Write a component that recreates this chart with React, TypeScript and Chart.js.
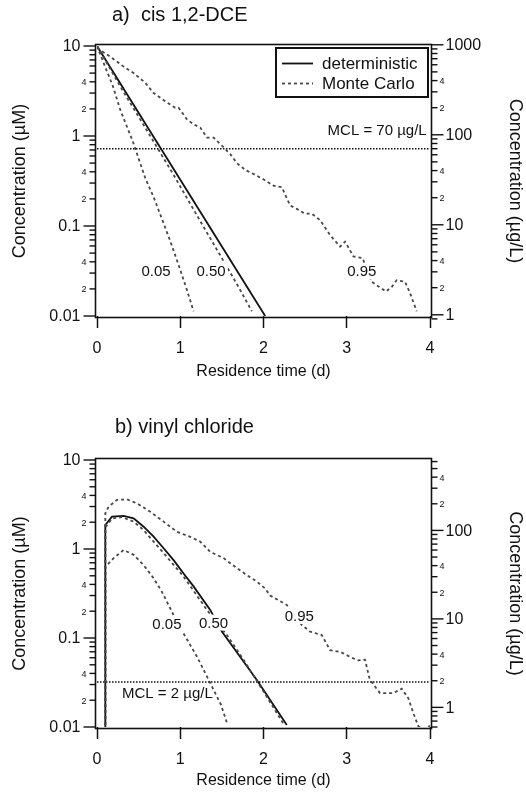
import React, { useEffect, useRef } from "react";
import { Chart, registerables } from "chart.js";

Chart.register(...registerables);

const FONT = "'Liberation Sans', Arial, Helvetica, sans-serif";
const INK = "#111111";
const MC_INK = "#484848";

// ---------- shared axis values ----------
const X_TICKS = [0, 1, 2, 3, 4];
const X_MIN = 0;
const X_MAX = 4;
const Y_MIN = 0.01;
const Y_MAX = 10;
const DECADES = [0.1, 1, 10, 100, 1000];
const MANTISSAS = [1, 2, 3, 4, 5, 6, 7, 8, 9];
const LABELLED_MINOR = [2, 4];
const LEFT_DECADES = [0.01, 0.1, 1, 10];

// ---------- (a) cis 1,2-DCE ----------
const DCE_TITLE = "a)  cis 1,2-DCE";
const DCE_MW = 96.94; // g/mol -> µM to µg/L
const DCE_MCL_UGL = 70;
const DCE_MCL_TEXT = "MCL = 70 µg/L";

const DCE_DET_T = [0, 2.02];
const DCE_DET_C = [10, 0.01];

const DCE_P05_T = [0, 0.1, 0.19, 0.28, 0.43, 0.58, 0.68, 0.78, 0.88, 0.98, 1.08, 1.16];
const DCE_P05_C = [10, 5.8, 3.6, 1.95, 0.87, 0.34, 0.21, 0.12, 0.068, 0.037, 0.0195, 0.0113];

const DCE_P50_T = [0, 0.3, 0.6, 0.92, 1.1, 1.3, 1.5, 1.7, 1.86];
const DCE_P50_C = [10, 3.3, 1.15, 0.37, 0.19, 0.091, 0.044, 0.021, 0.0113];

const DCE_P95_T = [0, 0.16, 0.32, 0.44, 0.58, 0.68, 0.82, 0.94, 0.98, 1.08, 1.16, 1.24, 1.32, 1.4, 1.5, 1.6, 1.68, 1.78, 1.9, 2.0, 2.12, 2.22, 2.32, 2.4, 2.5, 2.58, 2.68, 2.8, 2.92, 2.98, 3.08, 3.19, 3.3, 3.47, 3.54, 3.6, 3.7, 3.76, 3.84];
const DCE_P95_C = [9.5, 7.6, 5.9, 5.0, 3.9, 3.0, 2.43, 2.06, 2.06, 1.53, 1.35, 1.24, 0.96, 0.96, 0.78, 0.63, 0.5, 0.42, 0.37, 0.33, 0.28, 0.27, 0.169, 0.155, 0.137, 0.137, 0.116, 0.079, 0.059, 0.067, 0.046, 0.044, 0.024, 0.0187, 0.021, 0.025, 0.024, 0.018, 0.0113];

const DCE_LABEL_TEXT = ["0.05", "0.50", "0.95"];
const DCE_LABEL_T = [0.71, 1.37, 3.18];
const DCE_LABEL_C = [0.0316, 0.0316, 0.0316];
const DCE_MCL_LABEL_T = 3.96;
const DCE_MCL_LABEL_C = 1.14;

// ---------- (b) vinyl chloride ----------
const VC_TITLE = "b) vinyl chloride";
const VC_MW = 62.5;
const VC_MCL_UGL = 2;
const VC_MCL_TEXT = "MCL = 2 µg/L";

const VC_DET_T = [0.1, 0.1, 0.18, 0.32, 0.44, 0.56, 0.68, 0.8, 0.92, 1.04, 1.16, 1.36, 1.5, 1.92, 2.28];
const VC_DET_C = [0.009, 1.86, 2.31, 2.36, 2.21, 1.78, 1.38, 1.02, 0.75, 0.53, 0.38, 0.207, 0.118, 0.0337, 0.0105];

const VC_P05_T = [0.1, 0.1, 0.2, 0.32, 0.44, 0.56, 0.68, 0.78, 0.92, 1.05, 1.2, 1.34, 1.49, 1.57];
const VC_P05_C = [0.009, 0.63, 0.79, 0.975, 0.86, 0.66, 0.47, 0.33, 0.181, 0.108, 0.062, 0.034, 0.0177, 0.0105];

const VC_P50_T = [0.1, 0.1, 0.18, 0.3, 0.44, 0.56, 0.8, 1.04, 1.2, 1.32, 1.56, 1.76, 2.0, 2.25];
const VC_P50_C = [0.009, 1.75, 2.2, 2.28, 2.03, 1.63, 0.9, 0.49, 0.3, 0.207, 0.108, 0.057, 0.025, 0.0105];

const VC_P95_T = [0.1, 0.1, 0.14, 0.24, 0.36, 0.48, 0.64, 0.8, 0.96, 1.12, 1.24, 1.36, 1.52, 1.68, 1.8, 1.92, 2.02, 2.08, 2.28, 2.46, 2.56, 2.7, 2.8, 2.92, 3.06, 3.14, 3.22, 3.27, 3.32, 3.4, 3.56, 3.66, 3.74, 3.8, 3.86, 3.92, 3.98, 4.0];
const VC_P95_C = [0.009, 2.52, 2.99, 3.56, 3.61, 3.26, 2.62, 2.03, 1.56, 1.37, 1.21, 0.93, 0.79, 0.61, 0.51, 0.43, 0.36, 0.3, 0.235, 0.14, 0.118, 0.108, 0.073, 0.07, 0.06, 0.056, 0.057, 0.036, 0.03, 0.024, 0.024, 0.027, 0.021, 0.0143, 0.0102, 0.0094, 0.0098, 0.0106];

const VC_LABEL_TEXT = ["0.05", "0.50", "0.95"];
const VC_LABEL_T = [0.84, 1.4, 2.43];
const VC_LABEL_C = [0.144, 0.149, 0.177];
const VC_MCL_LABEL_T = 0.3;
const VC_MCL_LABEL_C = 0.0235;

const LEGEND_TEXT = ["deterministic", "Monte Carlo"];

// ---------- helpers ----------
const pts = (t: number[], c: number[]) => t.map((x, i) => ({ x, y: c[i] }));

type Panel = {
  title: string;
  titleX: number;
  titleY: number;
  mw: number;
  mcl: number;
  mclText: string;
  mclLabelT: number;
  mclLabelC: number;
  mclAlign: CanvasTextAlign;
  series: { t: number[]; c: number[]; mc: boolean }[];
  labelText: string[];
  labelT: number[];
  labelC: number[];
  legend: boolean;
  height: number;
  padTop: number;
  xHeight: number;
  xTickPad: number;
  xTitlePad: number;
};

const PANEL_A: Panel = {
  title: DCE_TITLE,
  titleX: 112,
  titleY: 15,
  mw: DCE_MW,
  mcl: DCE_MCL_UGL / DCE_MW,
  mclText: DCE_MCL_TEXT,
  mclLabelT: DCE_MCL_LABEL_T,
  mclLabelC: DCE_MCL_LABEL_C,
  mclAlign: "right",
  series: [
    { t: DCE_P05_T, c: DCE_P05_C, mc: true },
    { t: DCE_P50_T, c: DCE_P50_C, mc: true },
    { t: DCE_P95_T, c: DCE_P95_C, mc: true },
    { t: DCE_DET_T, c: DCE_DET_C, mc: false },
  ],
  labelText: DCE_LABEL_TEXT,
  labelT: DCE_LABEL_T,
  labelC: DCE_LABEL_C,
  legend: true,
  height: 396,
  padTop: 46,
  xHeight: 80,
  xTickPad: 10.5,
  xTitlePad: 14.4,
};

const PANEL_B: Panel = {
  title: VC_TITLE,
  titleX: 115,
  titleY: 31,
  mw: VC_MW,
  mcl: VC_MCL_UGL / VC_MW,
  mclText: VC_MCL_TEXT,
  mclLabelT: VC_MCL_LABEL_T,
  mclLabelC: VC_MCL_LABEL_C,
  mclAlign: "left",
  series: [
    { t: VC_P05_T, c: VC_P05_C, mc: true },
    { t: VC_P50_T, c: VC_P50_C, mc: true },
    { t: VC_P95_T, c: VC_P95_C, mc: true },
    { t: VC_DET_T, c: VC_DET_C, mc: false },
  ],
  labelText: VC_LABEL_TEXT,
  labelT: VC_LABEL_T,
  labelC: VC_LABEL_C,
  legend: false,
  height: 397,
  padTop: 64,
  xHeight: 66,
  xTickPad: 11,
  xTitlePad: 2.4,
};

function tickValues(decades: number[]) {
  const out: { v: number; m: number }[] = [];
  decades.forEach((d) => MANTISSAS.forEach((m) => out.push({ v: +(d * m).toPrecision(6), m })));
  return out;
}

function makeDecor(p: Panel) {
  return {
    id: "decor",
    afterDatasetsDraw(chart: any) {
      const ctx: CanvasRenderingContext2D = chart.ctx;
      const xs = chart.scales.x;
      const yl = chart.scales.y;
      const yr = chart.scales.y2;
      const { left, right, top, bottom } = chart.chartArea;
      const fl = left - 1.5;
      const fr = right + 1.5;
      const ft = top - 1.5;
      const fb = bottom + 1.5;
      ctx.save();

      // curve quantile labels (white box interrupts the curve like the original)
      ctx.font = `15px ${FONT}`;
      ctx.textAlign = "center";
      ctx.textBaseline = "middle";
      p.labelText.forEach((txt, i) => {
        const x = xs.getPixelForValue(p.labelT[i]);
        const y = yl.getPixelForValue(p.labelC[i]);
        const w = ctx.measureText(txt).width;
        ctx.fillStyle = "#fff";
        ctx.fillRect(x - w / 2 - 2, y - 8, w + 4, 16);
        ctx.fillStyle = INK;
        ctx.fillText(txt, x, y + 1);
      });

      // MCL label
      ctx.font = `15px ${FONT}`;
      ctx.textAlign = p.mclAlign;
      ctx.fillStyle = INK;
      ctx.fillText(p.mclText, xs.getPixelForValue(p.mclLabelT), yl.getPixelForValue(p.mclLabelC));

      // frame
      ctx.strokeStyle = INK;
      ctx.lineWidth = 1.6;
      ctx.strokeRect(fl, ft, fr - fl, fb - ft);

      // left axis ticks
      ctx.lineWidth = 1.4;
      tickValues(LEFT_DECADES).forEach(({ v, m }) => {
        if (v < Y_MIN * 0.999 || v > Y_MAX * 1.001) return;
        const y = yl.getPixelForValue(v);
        const major = m === 1;
        const len = major ? 12 : 6;
        ctx.beginPath();
        ctx.moveTo(fl - len, y);
        ctx.lineTo(fl, y);
        ctx.stroke();
        if (major || LABELLED_MINOR.includes(m)) {
          ctx.textAlign = "right";
          ctx.textBaseline = "middle";
          ctx.font = major ? `16px ${FONT}` : `9px ${FONT}`;
          ctx.fillText(major ? String(v) : String(m), fl - len - 3, y + 1);
        }
      });

      // right axis ticks (µg/L)
      tickValues(DECADES).forEach(({ v, m }) => {
        const y = yr.getPixelForValue(v);
        if (y < ft - 2 || y > fb + 2) return;
        const major = m === 1;
        const len = major ? 12 : 6;
        ctx.beginPath();
        ctx.moveTo(fr, y);
        ctx.lineTo(fr + len, y);
        ctx.stroke();
        if (major || LABELLED_MINOR.includes(m)) {
          ctx.textAlign = "left";
          ctx.textBaseline = "middle";
          ctx.font = major ? `16px ${FONT}` : `9px ${FONT}`;
          ctx.fillText(major ? String(v) : String(m), fr + len + 2, y + 1);
        }
      });

      // legend
      if (p.legend) {
        const bw = 152;
        const bh = 49;
        const bx = right - 2 - bw;
        const by = top + 2;
        ctx.fillStyle = "#fff";
        ctx.fillRect(bx, by, bw, bh);
        ctx.lineWidth = 2;
        ctx.strokeStyle = INK;
        ctx.strokeRect(bx, by, bw, bh);
        const rows = [by + 15.5, by + 35.5];
        ctx.lineWidth = 1.8;
        ctx.beginPath();
        ctx.moveTo(bx + 6, rows[0]);
        ctx.lineTo(bx + 37, rows[0]);
        ctx.stroke();
        ctx.strokeStyle = MC_INK;
        ctx.setLineDash([3, 3]);
        ctx.beginPath();
        ctx.moveTo(bx + 6, rows[1]);
        ctx.lineTo(bx + 37, rows[1]);
        ctx.stroke();
        ctx.setLineDash([]);
        ctx.fillStyle = INK;
        ctx.font = `17px ${FONT}`;
        ctx.textAlign = "left";
        ctx.textBaseline = "middle";
        LEGEND_TEXT.forEach((t, i) => ctx.fillText(t, bx + 46, rows[i] + 1));
      }

      // panel title
      ctx.fillStyle = INK;
      ctx.font = `20px ${FONT}`;
      ctx.textAlign = "left";
      ctx.textBaseline = "middle";
      ctx.fillText(p.title, p.titleX, p.titleY);

      ctx.restore();
    },
  };
}

function buildConfig(p: Panel): any {
  const datasets: any[] = p.series.map((s) => ({
    data: pts(s.t, s.c),
    borderColor: s.mc ? MC_INK : INK,
    borderWidth: 1.8,
    borderDash: s.mc ? [3, 3] : [],
    pointRadius: 0,
    tension: 0,
    fill: false,
  }));
  datasets.push({
    data: [
      { x: X_MIN, y: p.mcl },
      { x: X_MAX, y: p.mcl },
    ],
    borderColor: INK,
    borderWidth: 1.5,
    borderDash: [1.5, 1.5],
    pointRadius: 0,
    fill: false,
  });
  const titleFont = { family: FONT, size: 18 };
  return {
    type: "line",
    data: { datasets },
    options: {
      responsive: false,
      maintainAspectRatio: false,
      animation: false,
      events: [],
      layout: { padding: { top: p.padTop, left: 0, right: 0, bottom: 0 } },
      plugins: { legend: { display: false }, title: { display: false }, tooltip: { enabled: false } },
      scales: {
        x: {
          type: "linear",
          min: X_MIN,
          max: X_MAX,
          afterBuildTicks: (s: any) => {
            s.ticks = X_TICKS.map((v) => ({ value: v }));
          },
          afterFit: (s: any) => {
            s.height = p.xHeight;
          },
          ticks: { font: { family: FONT, size: 16 }, color: INK, padding: p.xTickPad, maxRotation: 0 },
          grid: { display: true, drawOnChartArea: false, drawTicks: true, tickLength: 12, tickWidth: 1.5, tickColor: INK, color: INK },
          border: { display: false },
          title: { display: true, text: "Residence time (d)", font: { family: FONT, size: 16 }, color: INK, padding: { top: 0, bottom: p.xTitlePad } },
        },
        y: {
          type: "logarithmic",
          position: "left",
          min: Y_MIN,
          max: Y_MAX,
          afterFit: (s: any) => {
            s.width = 97;
          },
          ticks: { display: false },
          grid: { display: false },
          border: { display: false },
          title: { display: true, text: "Concentration (µM)", font: titleFont, color: INK, padding: { top: 9, bottom: 0 } },
        },
        y2: {
          type: "logarithmic",
          position: "right",
          min: Y_MIN * p.mw,
          max: Y_MAX * p.mw,
          afterFit: (s: any) => {
            s.width = 96;
          },
          ticks: { display: false },
          grid: { display: false },
          border: { display: false },
          title: { display: true, text: "Concentration (µg/L)", font: titleFont, color: INK, padding: { top: 0.5, bottom: 0 } },
        },
      },
    },
    plugins: [makeDecor(p)],
  };
}

function PanelChart({ panel }: { panel: Panel }) {
  const ref = useRef<HTMLCanvasElement | null>(null);
  useEffect(() => {
    if (!ref.current) return;
    const chart = new Chart(ref.current, buildConfig(panel));
    return () => chart.destroy();
  }, [panel]);
  return <canvas ref={ref} width={526} height={panel.height} style={{ display: "block", width: 526, height: panel.height }} />;
}

export default function App() {
  return (
    <div style={{ position: "absolute", left: 0, top: 0, width: 526, height: 793, background: "#fff" }}>
      <PanelChart panel={PANEL_A} />
      <PanelChart panel={PANEL_B} />
    </div>
  );
}
